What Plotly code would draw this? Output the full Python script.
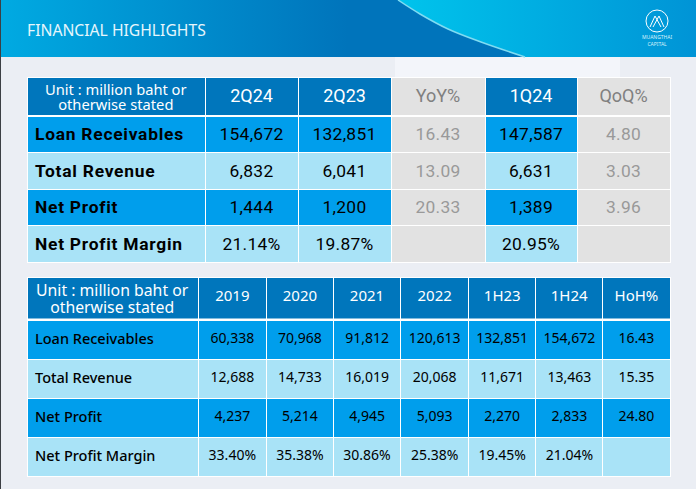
import plotly.graph_objects as go

# table 1
unit_text = "Unit : million baht or<br>otherwise stated"
q_header = ["", "2Q24", "2Q23", "YoY%", "1Q24", "QoQ%"]
q_labels = ["Loan Receivables", "Total Revenue", "Net Profit", "Net Profit Margin"]
q_2q24 = ["154,672", "6,832", "1,444", "21.14%"]
q_2q23 = ["132,851", "6,041", "1,200", "19.87%"]
q_yoy = ["16.43", "13.09", "20.33", ""]
q_1q24 = ["147,587", "6,631", "1,389", "20.95%"]
q_qoq = ["4.80", "3.03", "3.96", ""]

# table 2
y_header = ["", "2019", "2020", "2021", "2022", "1H23", "1H24", "HoH%"]
y_labels = ["Loan Receivables", "Total Revenue", "Net Profit", "Net Profit Margin"]
y_2019 = ["60,338", "12,688", "4,237", "33.40%"]
y_2020 = ["70,968", "14,733", "5,214", "35.38%"]
y_2021 = ["91,812", "16,019", "4,945", "30.86%"]
y_2022 = ["120,613", "20,068", "5,093", "25.38%"]
y_1h23 = ["132,851", "11,671", "2,270", "19.45%"]
y_1h24 = ["154,672", "13,463", "2,833", "21.04%"]
y_hoh = ["16.43", "15.35", "24.80", ""]

DARK = "#0076bc"
BLUE = "#009eec"
LIGHT = "#a9e3f7"
GREY = "#e2e2e2"
FONT = "Noto Sans"
FONT_Q = "Roboto"  # shorter line box, noto would stretch the 36px rows
W, H = 696, 489


def dom_x(a, b):
    return [a / W, b / W]


def dom_y(top, bottom):
    return [1 - bottom / H, 1 - top / H]


# tables always put text 8px from the cell top, a bigger cell font with a
# smaller span pushes the baseline down so the text sits in the middle.
# the trailing <br> stops the table from wrapping the span on its spaces
def sized(vals, px, weight=400, spacing=0):
    out = []
    for v in vals:
        style = f"font-size:{px}px;font-weight:{weight};letter-spacing:{spacing}px"
        out.append(f'<span style="{style}">{v}</span><br>' if v else "")
    return out


fig = go.Figure()

# banner, left and right of the curve
fig.add_trace(go.Scatter(x=[0, 696, 696, 0], y=[0, 0, 57, 57], mode="lines", fill="toself",
                         line=dict(width=0), hoverinfo="skip", showlegend=False,
                         fillgradient=dict(type="horizontal", colorscale=[[0, "#00aae2"], [0.5, "#0074bb"], [1, "#0074bb"]])))
curve_x = [398, 420, 448, 481, 525]
curve_y = [0, 14, 29, 42, 57]
fig.add_trace(go.Scatter(x=curve_x + [696, 696], y=curve_y + [57, 0], mode="lines", fill="toself",
                         line=dict(width=0), hoverinfo="skip", showlegend=False,
                         fillgradient=dict(type="horizontal", colorscale=[[0, "#00c4ec"], [1, "#0094d6"]])))
fig.add_trace(go.Scatter(x=curve_x, y=curve_y, mode="lines", line=dict(color="#7fdcf2", width=1.5, shape="spline"),
                         hoverinfo="skip", showlegend=False))

# faint light patch of the map behind the slide
fig.add_shape(type="rect", xref="x", yref="y", x0=395, x1=620, y0=57, y1=77, fillcolor="#f3f5fa",
              line=dict(width=0), layer="below")

row_fill = [BLUE, LIGHT, BLUE, LIGHT]
q_cols = [sized(q_labels, 17.4, 700, 0.75)] + [sized(c, 17.4, 400, 0.3) for c in [q_2q24, q_2q23, q_yoy, q_1q24, q_qoq]]
q_fill = [row_fill, row_fill, row_fill, [GREY] * 4, row_fill, [GREY] * 4]
fig.add_trace(go.Table(
    domain=dict(x=dom_x(27, 670), y=dom_y(77, 268)),
    columnwidth=[178, 93, 93, 94, 92, 93],
    header=dict(values=sized(q_header, 18), height=39, align="center",
                fill_color=[DARK, DARK, DARK, GREY, DARK, GREY],
                line=dict(color="white", width=1),
                font=dict(family=FONT_Q, size=22,
                          color=["white", "white", "white", "#808080", "white", "#808080"])),
    cells=dict(values=q_cols, height=36.5, align=["left"] + ["center"] * 5,
               fill_color=q_fill, line=dict(color="white", width=1),
               font=dict(family=FONT_Q, size=20,
                         color=["black", "black", "black", "#999999", "black", "#999999"]))))

y_cols = [sized(y_labels, 14.5, 500)] + [sized(c, 14) for c in [y_2019, y_2020, y_2021, y_2022, y_1h23, y_1h24, y_hoh]]
fig.add_trace(go.Table(
    domain=dict(x=dom_x(27, 670), y=dom_y(277, 482)),
    columnwidth=[171, 68, 67, 67, 68, 67, 67, 67],
    header=dict(values=sized(y_header, 15), height=43, align="center", fill_color=DARK,
                line=dict(color="white", width=1),
                font=dict(family=FONT, size=23, color="white")),
    cells=dict(values=y_cols, height=39, align=["left"] + ["center"] * 7,
               fill_color=[row_fill] * 8, line=dict(color="white", width=1),
               font=dict(family=FONT, size=24, color="black"))))

# two line unit labels would stretch the header row, so they go on top of it
for cx, cy, px, base in [(116, 96, 14.7, 11.7), (112, 298.5, 15.8, 13)]:
    fig.add_annotation(x=cx, y=cy, xref="x", yref="y", showarrow=False,
                       text=f'<span style="font-size:{px}px">{unit_text}</span>',
                       font=dict(family=FONT, size=base, color="white"))

fig.add_annotation(x=24.5, y=30, xref="x", yref="y", text="FINANCIAL HIGHLIGHTS", showarrow=False,
                   xanchor="left", font=dict(family=FONT, size=15.7, color="#e6f6fc"))
fig.add_annotation(x=657, y=40, xref="x", yref="y", text="MUANGTHAI<br>CAPITAL", showarrow=False,
                   font=dict(family=FONT, size=5, color="#d8f2fb"))
fig.add_shape(type="circle", xref="x", yref="y", x0=646, x1=668, y0=10, y1=32,
              line=dict(color="white", width=1))
fig.add_shape(type="path", xref="x", yref="y", path="M650 27 L655 16 L661 27 M653 27 L659 16 L664 27",
              line=dict(color="white", width=1))
# dark edge of the slide
fig.add_shape(type="rect", xref="x", yref="y", x0=0, x1=1, y0=0, y1=H, fillcolor="#3c3f44", line=dict(width=0))
# white gap under the headers
fig.add_shape(type="line", xref="x", yref="y", x0=27, x1=670, y0=116, y1=116, layer="above",
              line=dict(color="white", width=2))
fig.add_shape(type="line", xref="x", yref="y", x0=27, x1=670, y0=319.5, y1=319.5, layer="above",
              line=dict(color="white", width=2))

fig.update_layout(
    width=W, height=H, margin=dict(l=0, r=0, t=0, b=0), showlegend=False,
    paper_bgcolor="#ebeef4", plot_bgcolor="#ebeef4",
    xaxis=dict(range=[0, W], visible=False, fixedrange=True),
    yaxis=dict(range=[H, 0], visible=False, fixedrange=True),
)
fig.write_html("out.html", config=dict(displayModeBar=False),
               post_script="document.body.style.margin='0';")
